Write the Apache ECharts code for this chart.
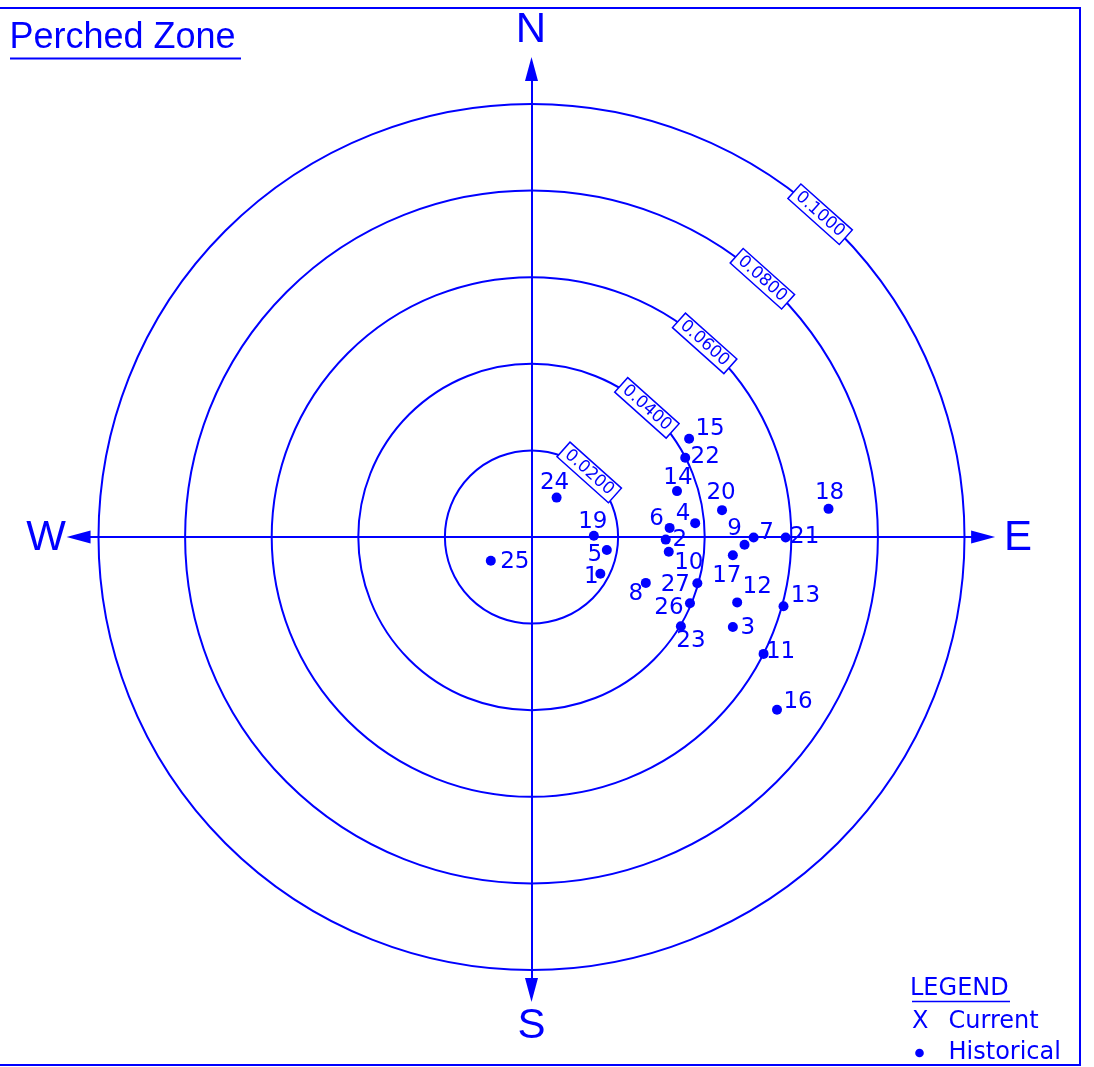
<!DOCTYPE html>
<html>
<head>
<meta charset="utf-8">
<title>Perched Zone</title>
<script src="https://cdn.jsdelivr.net/npm/echarts@6/dist/echarts.min.js"></script>
<style>
html, body { margin: 0; padding: 0; background: #ffffff; }
#main { width: 1094px; height: 1067px; }
</style>
</head>
<body>
<div id="main"></div>
<script>
// 测点编号与偏移量 (东向 / 北向)
var pointIds = [1, 2, 3, 4, 5, 6, 7, 8, 9, 10, 11, 12, 13, 14, 15, 16, 17, 18, 19, 20, 21, 22, 23, 24, 25, 26, 27];
var eastValues = [0.0159, 0.0310, 0.0465, 0.0378, 0.0174, 0.0319, 0.0513, 0.0264, 0.0492, 0.0317,
                  0.0536, 0.0475, 0.0582, 0.0336, 0.0364, 0.0567, 0.0465, 0.0686, 0.0144, 0.0440,
                  0.0587, 0.0355, 0.0345, 0.0058, -0.0094, 0.0366, 0.0383];
var northValues = [-0.0085, -0.0006, -0.0208, 0.0032, -0.0030, 0.0021, -0.0001, -0.0106, -0.0018, -0.0034,
                   -0.0270, -0.0151, -0.0160, 0.0106, 0.0227, -0.0399, -0.0042, 0.0065, 0.0003, 0.0062,
                   -0.0001, 0.0183, -0.0206, 0.0091, -0.0055, -0.0153, -0.0107];
// 同心圆刻度
var ringValues = [0.02, 0.04, 0.06, 0.08, 0.10];
var ringLabels = ['0.0200', '0.0400', '0.0600', '0.0800', '0.1000'];
var compassLabels = ['N', 'E', 'S', 'W'];
var legendItems = ['Current', 'Historical'];

// 标签相对点的偏移 (像素)
var labelOffsets = {
    1: [-9, 3], 2: [14, 0], 3: [15, 1], 4: [-12, -9], 5: [-12, 5], 6: [-13, -9], 7: [13, -4],
    8: [-10, 11], 9: [-10, -16], 10: [20, 11], 11: [17, -2], 12: [20, -15], 13: [22, -10],
    14: [1, -13], 15: [21, -10], 16: [21, -8], 17: [-6, 21], 18: [1, -16], 19: [-1, -14],
    20: [-1, -17], 21: [19, 0], 22: [20, -1], 23: [10, 15], 24: [-2, -15], 25: [24, 1],
    26: [-21, 5], 27: [-22, 2]
};

var BLUE = '#0000ff';
var CX = 531.5, CY = 537, PX = 4330;   // 中心与每单位像素
var xMin = -0.1046, xMax = 0.1043, yMin = -0.1046, yMax = 0.1081;
var numFont = '"DejaVu Sans", sans-serif';
var capFont = '"Liberation Sans", Arial, sans-serif';

var myChart = echarts.init(document.getElementById('main'));

var pointData = pointIds.map(function (id, i) {
    return {
        name: String(id),
        value: [eastValues[i], northValues[i]],
        label: { offset: labelOffsets[id] }
    };
});

var hiddenAxis = {
    type: 'value',
    axisTick: { show: false },
    axisLabel: { show: false },
    splitLine: { show: false },
    axisLine: {
        show: true,
        onZero: true,
        symbol: ['triangle', 'triangle'],
        symbolSize: [13, 24],
        lineStyle: { color: BLUE, width: 2 }
    }
};

var option = {
    animation: false,
    backgroundColor: '#ffffff',
    polar: {
        center: [CX, CY],
        radius: 0.1 * PX
    },
    angleAxis: {
        type: 'value',
        min: 0,
        max: 360,
        show: false
    },
    radiusAxis: {
        type: 'value',
        min: 0,
        max: 0.1,
        interval: 0.02,
        axisLine: { show: false },
        axisTick: { show: false },
        axisLabel: { show: false },
        splitLine: { show: true, lineStyle: { color: BLUE, width: 2 } }
    },
    grid: {
        left: CX + xMin * PX,
        top: CY - yMax * PX,
        width: (xMax - xMin) * PX,
        height: (yMax - yMin) * PX
    },
    xAxis: Object.assign({}, hiddenAxis, { min: xMin, max: xMax }),
    yAxis: Object.assign({}, hiddenAxis, { min: yMin, max: yMax }),
    series: [
        {
            name: 'Historical',
            type: 'scatter',
            data: pointData,
            symbol: 'circle',
            symbolSize: 10,
            itemStyle: { color: BLUE, opacity: 1 },
            label: {
                show: true,
                position: 'inside',
                formatter: '{b}',
                color: BLUE,
                opacity: 1,
                fontSize: 23,
                fontFamily: numFont,
                textBorderWidth: 0
            }
        }
    ]
};
myChart.setOption(option);

// 标注文字、圆环标签、图例
var graphics = [];
graphics.push({
    type: 'rect',
    shape: { x: -2, y: 8, width: 1082, height: 1057 },
    style: { fill: 'none', stroke: BLUE, lineWidth: 2 },
    silent: true
});
graphics.push({
    type: 'text', x: 9.5, y: 38,
    style: { text: 'Perched Zone', font: '36px ' + capFont, fill: BLUE, align: 'left', verticalAlign: 'middle' }
});
graphics.push({
    type: 'line', shape: { x1: 10, y1: 58.5, x2: 241, y2: 58.5 },
    style: { stroke: BLUE, lineWidth: 2 }
});

var compassPos = { N: [531, 30], E: [1018, 538], S: [531.5, 1026], W: [46, 538] };
compassLabels.forEach(function (c) {
    graphics.push({
        type: 'text', x: compassPos[c][0], y: compassPos[c][1],
        style: { text: c, font: '42px ' + capFont, fill: BLUE, align: 'center', verticalAlign: 'middle' }
    });
});

var ringAngle = 41.8 * Math.PI / 180;
ringValues.forEach(function (r, i) {
    var p = myChart.convertToPixel({ gridIndex: 0 }, [r * Math.sin(ringAngle), r * Math.cos(ringAngle)]);
    graphics.push({
        type: 'text', x: p[0], y: p[1], rotation: -ringAngle, z: 10,
        style: {
            text: ringLabels[i], font: '17px ' + numFont, fill: BLUE,
            align: 'center', verticalAlign: 'middle',
            backgroundColor: '#ffffff', borderColor: BLUE, borderWidth: 1.5,
            padding: [1, 4, 0, 4], lineHeight: 17
        }
    });
});

// 图例
graphics.push({
    type: 'text', x: 910, y: 989,
    style: { text: 'LEGEND', font: '24px ' + numFont, fill: BLUE, align: 'left', verticalAlign: 'middle' }
});
graphics.push({
    type: 'line', shape: { x1: 912, y1: 1001.5, x2: 1010, y2: 1001.5 },
    style: { stroke: BLUE, lineWidth: 1.5 }
});
graphics.push({
    type: 'text', x: 912, y: 1021.5,
    style: { text: 'X', font: '24px ' + numFont, fill: BLUE, align: 'left', verticalAlign: 'middle' }
});
graphics.push({
    type: 'circle', shape: { cx: 919.5, cy: 1053, r: 4.3 },
    style: { fill: BLUE }
});
legendItems.forEach(function (name, i) {
    graphics.push({
        type: 'text', x: 948.5, y: 1021.5 + i * 31,
        style: { text: name, font: '24px ' + numFont, fill: BLUE, align: 'left', verticalAlign: 'middle' }
    });
});

myChart.setOption({ graphic: graphics });
</script>
</body>
</html>
